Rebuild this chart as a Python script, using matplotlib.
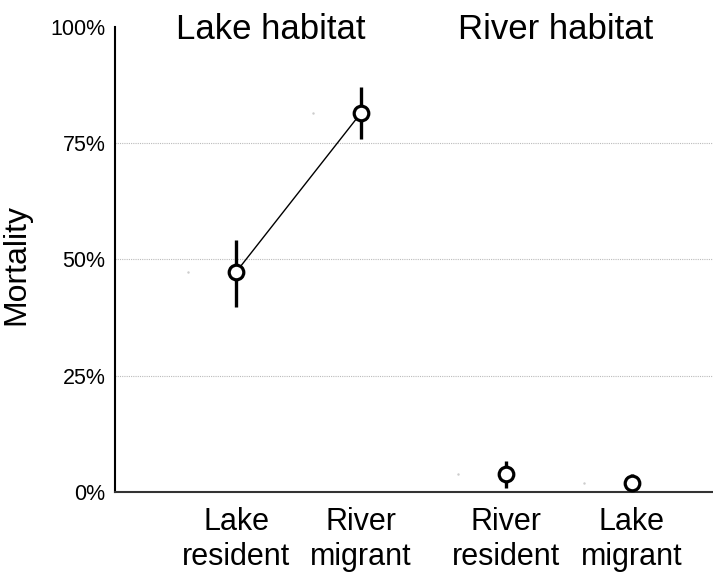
import matplotlib.pyplot as plt
from matplotlib.ticker import PercentFormatter

plt.rcParams['font.family'] = ['Liberation Sans', 'DejaVu Sans']

# groups and their mortality estimates (fraction)
groups = ['Lake\nresident', 'River\nmigrant', 'River\nresident', 'Lake\nmigrant']
xpos = [1, 2, 3.16, 4.17]
mortality = [0.473, 0.815, 0.039, 0.019]
err_low = [0.398, 0.759, 0.009, 0.0]
err_high = [0.542, 0.871, 0.067, 0.039]
habitats = ['Lake habitat', 'River habitat']
habitat_x = [1.28, 3.56]
gridlines = [0.25, 0.5, 0.75]

fig = plt.figure(figsize=(7.13, 5.74), dpi=100)
ax = fig.add_axes([0.1613, 0.1429, 0.8387, 0.8101])

for g in gridlines:
    ax.axhline(g, color='#bbbbbb', linestyle=(0, (1, 1)), linewidth=0.8, zorder=0)

# thin line joining the lake habitat pair
ax.plot(xpos[:2], mortality[:2], color='black', linewidth=1, zorder=2)

yerr = [[m - lo for m, lo in zip(mortality, err_low)],
        [hi - m for m, hi in zip(mortality, err_high)]]
ax.errorbar(xpos, mortality, yerr=yerr, fmt='none', ecolor='black',
            elinewidth=2.4, capsize=0, zorder=3)
ax.plot(xpos, mortality, 'o', markersize=10.5, markerfacecolor='white',
        markeredgecolor='black', markeredgewidth=2.3, linestyle='none', zorder=4)

# faint dots next to each estimate
ax.plot([x - 0.385 for x in xpos], mortality, '.', color='#cccccc',
        markersize=1.5, zorder=1)

for name, hx in zip(habitats, habitat_x):
    ax.text(hx, 0.974, name, ha='center', va='baseline', fontsize=25)

ax.set_xlim(0.03, 4.82)
ax.set_ylim(0, 1)
ax.set_yticks([0, 0.25, 0.5, 0.75, 1.0])
ax.yaxis.set_major_formatter(PercentFormatter(1.0, decimals=0))
ax.set_xticks(xpos)
ax.set_xticklabels(groups, fontsize=22, linespacing=1.2)
ax.tick_params(axis='y', length=0, pad=7, labelsize=15.5)
ax.tick_params(axis='x', length=0, pad=11)

ax.set_ylabel('Mortality', fontsize=23)
ax.yaxis.set_label_coords(-0.14, 0.49)

for s in ['top', 'right']:
    ax.spines[s].set_visible(False)
ax.spines['left'].set_linewidth(1.5)
ax.spines['bottom'].set_linewidth(1.5)
ax.spines['bottom'].set_color('#333333')

fig.savefig('out.png', dpi=100)
